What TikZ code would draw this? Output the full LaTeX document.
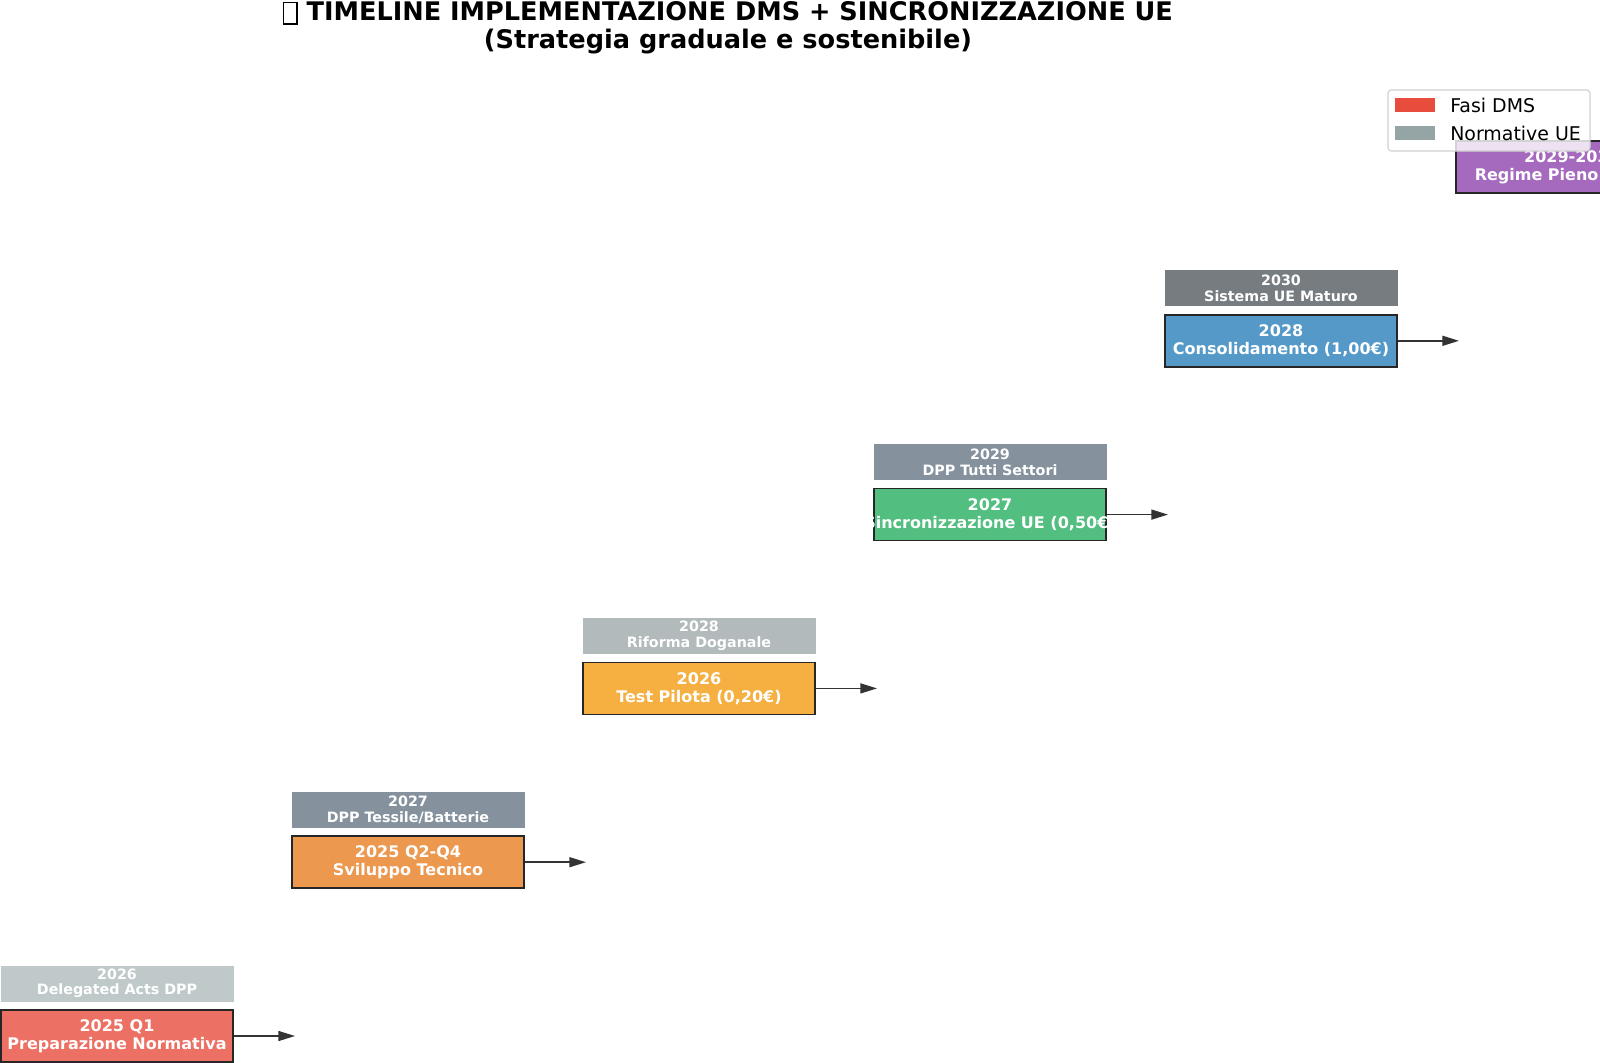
\documentclass[tikz,border=0pt]{standalone}
\usepackage{fontspec}
\setmainfont{DejaVu Sans}
\usetikzlibrary{arrows.meta}
\definecolor{cA}{HTML}{EC7063}
\definecolor{cB}{HTML}{EC984E}
\definecolor{cC}{HTML}{F5B041}
\definecolor{cD}{HTML}{52BE80}
\definecolor{cE}{HTML}{5499C7}
\definecolor{cF}{HTML}{A569BE}
\definecolor{uA}{HTML}{BFC9CA}
\definecolor{uB}{HTML}{85929E}
\definecolor{uC}{HTML}{B2BABB}
\definecolor{uD}{HTML}{85929E}
\definecolor{uE}{HTML}{777C80}
\definecolor{edgec}{HTML}{262626}
\definecolor{arrc}{HTML}{333333}
\definecolor{legred}{HTML}{E74C3C}
\definecolor{leggray}{HTML}{95A5A6}
\definecolor{legedge}{HTML}{D0D0D0}
\tikzset{
  phasebox/.style={draw=edgec, line width=1.2pt, minimum width=174pt, minimum height=39pt, inner sep=0pt},
  phasetext/.style={text=white, font=\bfseries\fontsize{12}{13.8}\selectfont, align=center, inner sep=0pt},
  uebox/.style={draw=#1, fill=#1, line width=0.6pt, minimum width=174pt, minimum height=26.25pt, inner sep=0pt,
    text=white, font=\bfseries\fontsize{10.7}{11.6}\selectfont, align=center},
  arr/.style={draw=arrc, line width=1.1pt, -{Triangle[length=12.5pt,width=7.5pt]}, arrc},
  legtext/.style={font=\fontsize{14.2}{16}\selectfont, anchor=west, inner sep=0pt}
}
\newcommand\phaseitem[6]{%
  \node[phasebox, fill=#4] (#1) at (#2,#3) {};
  \begin{scope}
    \clip (#1.south west) rectangle (#1.north east);
    \node[phasetext] (#1t) at (#1.center) {#5\\#6};
  \end{scope}
  \coordinate (#1a) at ([xshift=133.5pt]#1.center);
  \draw[arr] (#1.east) -- (#1a);
}
\begin{document}
\begin{tikzpicture}[x=0.75pt,y=-0.75pt]
\useasboundingbox (0,0) rectangle (1600,1063);
\clip (0,0) rectangle (1600,1063);
\fill[white] (0,0) rectangle (1600,1063);

% title
\node[font=\bfseries\fontsize{19.2}{21}\selectfont, align=center, inner sep=0pt] (title) at (728,28)
  {{\setlength{\fboxsep}{0pt}\setlength{\fboxrule}{1pt}\raisebox{-2pt}{\fbox{\rule{0pt}{15pt}\hspace{9pt}}}} TIMELINE IMPLEMENTAZIONE DMS + SINCRONIZZAZIONE UE\\(Strategia graduale e sostenibile)};

% EU regulation labels
\node[uebox=uA] (u1) at (117,983.5) {2026\\Delegated Acts DPP};
\node[uebox=uB] (u2) at (408,809.7) {2027\\DPP Tessile/Batterie};
\node[uebox=uC] (u3) at (699,635.9) {2028\\Riforma Doganale};
\node[uebox=uD] (u4) at (990,462.1) {2029\\DPP Tutti Settori};
\node[uebox=uE] (u5) at (1281,288.3) {2030\\Sistema UE Maturo};

% DMS phases
\phaseitem{p1}{117}{1036}{cA}{2025 Q1}{Preparazione Normativa}
\phaseitem{p2}{408}{862.2}{cB}{2025 Q2-Q4}{Sviluppo Tecnico}
\phaseitem{p3}{699}{688.4}{cC}{2026}{Test Pilota (0,20€)}
\phaseitem{p4}{990}{514.6}{cD}{2027}{Sincronizzazione UE (0,50€)}
\phaseitem{p5}{1281}{340.8}{cE}{2028}{Consolidamento (1,00€)}
\phaseitem{p6}{1572}{167}{cF}{2029-2030}{Regime Pieno\phantom{ (1,50€)}}

% legend
\node[draw=legedge, fill=white, fill opacity=0.8, rounded corners=2.5pt, line width=0.8pt,
  minimum width=151.5pt, minimum height=45.75pt, inner sep=0pt] (leg) at (1489,120.5) {};
\node[fill=legred, minimum width=30pt, minimum height=10.5pt, inner sep=0pt] (lk1) at (1415,105) {};
\node[fill=leggray, minimum width=30pt, minimum height=10.5pt, inner sep=0pt] (lk2) at (1415,133) {};
\node[legtext] (lt1) at (1450,105) {Fasi DMS};
\node[legtext] (lt2) at (1450,133) {Normative UE};
\end{tikzpicture}
\end{document}
